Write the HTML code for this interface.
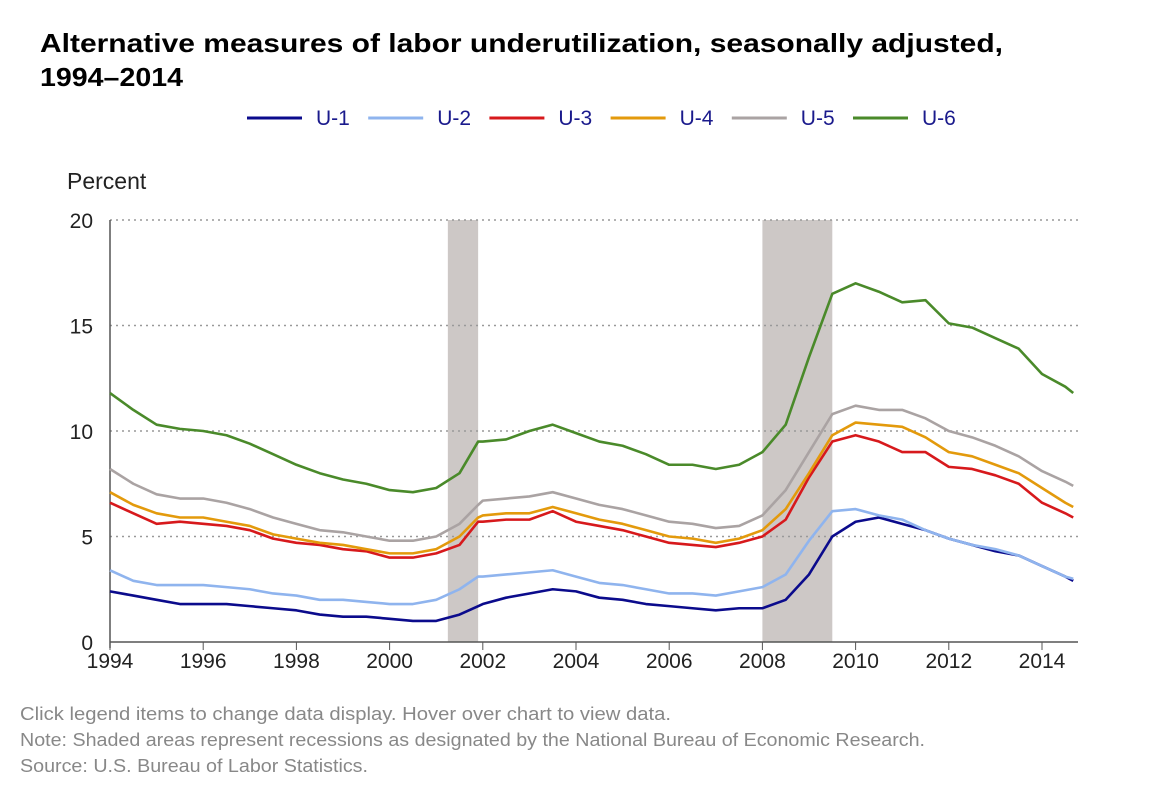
<!DOCTYPE html>
<html><head><meta charset="utf-8"><style>
body{margin:0;background:#fff;width:1160px;height:800px;overflow:hidden;font-family:"Liberation Sans",sans-serif}
</style></head><body>
<svg width="1160" height="800" xmlns="http://www.w3.org/2000/svg" font-family="Liberation Sans, sans-serif">
<text x="40" y="52" font-size="26" font-weight="bold" fill="#000" textLength="963" lengthAdjust="spacingAndGlyphs">Alternative measures of labor underutilization, seasonally adjusted,</text>
<text x="40" y="86" font-size="26" font-weight="bold" fill="#000" textLength="143" lengthAdjust="spacingAndGlyphs">1994–2014</text>
<g id="legend"></g>
<text x="67" y="189" font-size="23" fill="#222">Percent</text>
<g id="rec"></g>
<g id="grid"></g>
<g id="axes"></g>
<g id="series"></g>
<text x="20" y="720" font-size="18" fill="#888" textLength="651" lengthAdjust="spacingAndGlyphs">Click legend items to change data display. Hover over chart to view data.</text>
<text x="20" y="746" font-size="18" fill="#888" textLength="905" lengthAdjust="spacingAndGlyphs">Note: Shaded areas represent recessions as designated by the National Bureau of Economic Research.</text>
<text x="20" y="772" font-size="18" fill="#888" textLength="348" lengthAdjust="spacingAndGlyphs">Source: U.S. Bureau of Labor Statistics.</text>
</svg>
<script>
const dates=[1994,1994.5,1995,1995.5,1996,1996.5,1997,1997.5,1998,1998.5,1999,1999.5,2000,2000.5,2001,2001.5,2001.9,2002,2002.5,2003,2003.5,2004,2004.5,2005,2005.5,2006,2006.5,2007,2007.5,2008,2008.5,2009,2009.5,2010,2010.5,2011,2011.5,2012,2012.5,2013,2013.5,2014,2014.5,2014.67];
const u1=[2.4,2.2,2.0,1.8,1.8,1.8,1.7,1.6,1.5,1.3,1.2,1.2,1.1,1.0,1.0,1.3,1.7,1.8,2.1,2.3,2.5,2.4,2.1,2.0,1.8,1.7,1.6,1.5,1.6,1.6,2.0,3.2,5.0,5.7,5.9,5.6,5.3,4.9,4.6,4.3,4.1,3.6,3.1,2.9];
const u2=[3.4,2.9,2.7,2.7,2.7,2.6,2.5,2.3,2.2,2.0,2.0,1.9,1.8,1.8,2.0,2.5,3.1,3.1,3.2,3.3,3.4,3.1,2.8,2.7,2.5,2.3,2.3,2.2,2.4,2.6,3.2,4.8,6.2,6.3,6.0,5.8,5.3,4.9,4.6,4.4,4.1,3.6,3.1,3.0];
const u3=[6.6,6.1,5.6,5.7,5.6,5.5,5.3,4.9,4.7,4.6,4.4,4.3,4.0,4.0,4.2,4.6,5.7,5.7,5.8,5.8,6.2,5.7,5.5,5.3,5.0,4.7,4.6,4.5,4.7,5.0,5.8,7.8,9.5,9.8,9.5,9.0,9.0,8.3,8.2,7.9,7.5,6.6,6.1,5.9];
const u4=[7.1,6.5,6.1,5.9,5.9,5.7,5.5,5.1,4.9,4.7,4.6,4.4,4.2,4.2,4.4,5.0,5.9,6.0,6.1,6.1,6.4,6.1,5.8,5.6,5.3,5.0,4.9,4.7,4.9,5.3,6.3,8.0,9.8,10.4,10.3,10.2,9.7,9.0,8.8,8.4,8.0,7.3,6.6,6.4];
const u5=[8.2,7.5,7.0,6.8,6.8,6.6,6.3,5.9,5.6,5.3,5.2,5.0,4.8,4.8,5.0,5.6,6.5,6.7,6.8,6.9,7.1,6.8,6.5,6.3,6.0,5.7,5.6,5.4,5.5,6.0,7.2,9.0,10.8,11.2,11.0,11.0,10.6,10.0,9.7,9.3,8.8,8.1,7.6,7.4];
const u6=[11.8,11.0,10.3,10.1,10.0,9.8,9.4,8.9,8.4,8.0,7.7,7.5,7.2,7.1,7.3,8.0,9.5,9.5,9.6,10.0,10.3,9.9,9.5,9.3,8.9,8.4,8.4,8.2,8.4,9.0,10.3,13.5,16.5,17.0,16.6,16.1,16.2,15.1,14.9,14.4,13.9,12.7,12.1,11.8];
const seriesNames=["U-1","U-2","U-3","U-4","U-5","U-6"];
const yTicks=[0,5,10,15,20];
const xTicks=[1994,1996,1998,2000,2002,2004,2006,2008,2010,2012,2014];
const recStart=[2001.25,2008];
const recEnd=[2001.9,2009.5];
const colors=["#0b0b8c","#8fb4ee","#d7191c","#e39a0c","#aaa3a3","#4a8a2a"];
const all=[u1,u2,u3,u4,u5,u6];
const NS="http://www.w3.org/2000/svg";
const X=v=>110+(v-1994)*46.6, Y=v=>642-v*21.1;
function mk(t,a,p){const e=document.createElementNS(NS,t);for(const k in a)e.setAttribute(k,a[k]);p.appendChild(e);return e;}
const rec=document.getElementById('rec');
recStart.forEach((s,i)=>{const r=mk('rect',{x:X(s),y:220,width:X(recEnd[i])-X(s),height:422,fill:"#cdc8c6"},rec);

});
const grid=document.getElementById('grid');
yTicks.forEach(t=>{if(t>0){const l=mk('line',{x1:110,x2:1078,y1:Y(t),y2:Y(t),stroke:"#999","stroke-dasharray":"2,4","stroke-width":1.5},grid);

}
const tx=mk('text',{x:93,y:Y(t)+8,"text-anchor":"end","font-size":21,fill:"#222"},grid);tx.textContent=t;

});
const ax=document.getElementById('axes');
mk('line',{x1:110,x2:110,y1:220,y2:648,stroke:"#555","stroke-width":1.5},ax);
mk('line',{x1:110,x2:1078,y1:642,y2:642,stroke:"#555","stroke-width":1.5},ax);
xTicks.forEach(t=>{mk('line',{x1:X(t),x2:X(t),y1:642,y2:650,stroke:"#555"},ax);
const tx=mk('text',{x:X(t),y:668,"text-anchor":"middle","font-size":21,fill:"#222"},ax);tx.textContent=t;

});
const sg=document.getElementById('series');
all.forEach((d,i)=>{const p=mk('polyline',{points:d.map((v,j)=>X(dates[j])+","+Y(v)).join(" "),fill:"none",stroke:colors[i],"stroke-width":2.6,"stroke-linejoin":"round"},sg);

});
const lg=document.getElementById('legend');
seriesNames.forEach((n,i)=>{const x0=247+i*121.2;const g=mk('g',{},lg);


mk('line',{x1:x0,x2:x0+55,y1:118,y2:118,stroke:colors[i],"stroke-width":3},g);
const t=mk('text',{x:x0+69,y:125,"font-size":21,fill:"#1a1a8c"},g);t.textContent=n;});
</script>
</body></html>
